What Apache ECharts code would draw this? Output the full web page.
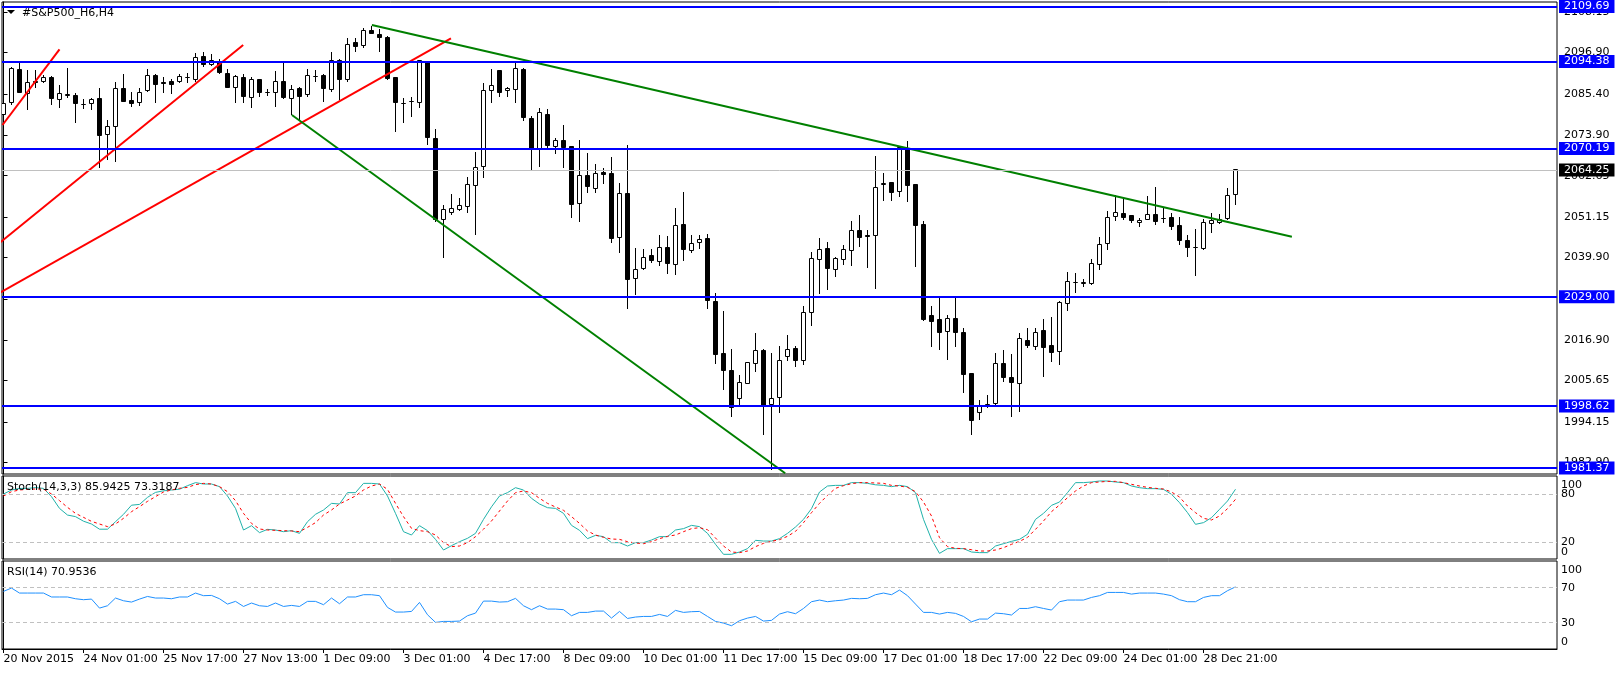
<!DOCTYPE html>
<html><head><meta charset="utf-8">
<script src="https://cdn.jsdelivr.net/npm/echarts@6/dist/echarts.min.js"></script>
<style>html,body{margin:0;padding:0;background:#fff}#c{width:1617px;height:673px}</style>
</head><body><div id="c"></div>
<script>
// ---- data (S&P500 H4 bars, 20 Nov 2015 - 28 Dec 2015) ----
const open = [2079.52,2083.05,2092.03,2085.55,2088.97,2088.89,2089.89,2083.89,2085.00,2084.80,
2082.55,2082.77,2084.16,2074.15,2076.27,2086.94,2083.50,2083.05,2086.19,2090.45,
2088.50,2088.78,2088.78,2089.85,2089.25,2095.73,2093.62,2094.17,2091.12,2087.22,
2090.00,2084.44,2089.25,2085.80,2085.83,2088.78,2084.16,2086.75,2085.08,2090.10,
2090.37,2086.67,2094.81,2089.25,2099.63,2098.71,2102.88,2102.04,2101.13,2089.81,
2082.80,2083.20,2083.05,2094.34,2073.04,2050.52,2052.46,2053.30,2054.02,2059.97,
2065.14,2086.39,2091.76,2086.19,2086.67,2092.23,2078.60,2070.26,2079.52,2070.62,
2072.48,2070.62,2054.96,2062.56,2059.14,2063.39,2063.31,2045.40,2057.75,2034.00,
2036.89,2040.31,2038.83,2042.73,2037.89,2048.93,2041.78,2044.12,2045.23,2027.79,
2013.25,2008.33,2000.74,2004.91,2010.47,2013.89,1998.87,2000.90,2012.31,2014.64,
2011.11,2024.65,2039.39,2042.45,2036.61,2039.39,2041.89,2047.46,2045.90,2045.95,
2060.30,2060.69,2058.25,2070.06,2060.05,2048.93,2023.62,2022.51,2019.26,2022.79,
2019.09,2007.49,1996.79,1998.46,1999.15,2010.47,2006.58,2004.91,2016.67,2015.09,
2019.45,2015.28,2013.70,2027.15,2032.95,2032.70,2032.72,2038.00,2043.84,2051.24,
2052.18,2051.43,2049.68,2050.52,2051.71,2050.85,2051.07,2048.74,2044.48,2042.70,
2042.45,2049.40,2049.68,2050.79,2057.47];
const high = [2084.61,2092.95,2094.17,2092.03,2092.03,2090.64,2090.37,2087.86,2092.51,2085.55,
2083.89,2084.33,2086.94,2078.13,2088.78,2090.92,2086.00,2086.94,2092.23,2090.92,
2090.00,2089.45,2090.92,2091.12,2096.84,2097.12,2096.40,2095.09,2092.31,2090.64,
2090.92,2090.00,2089.53,2086.67,2091.84,2094.34,2087.86,2087.22,2092.31,2092.03,
2090.92,2096.96,2095.09,2101.02,2100.85,2103.63,2104.35,2103.35,2101.49,2089.90,
2084.16,2084.61,2094.81,2094.40,2075.54,2054.49,2057.55,2056.35,2062.19,2069.15,
2088.50,2092.23,2092.03,2087.39,2094.62,2092.51,2079.24,2081.38,2081.10,2073.21,
2076.74,2070.98,2072.57,2068.87,2065.89,2064.86,2067.84,2060.61,2071.09,2042.45,
2042.17,2042.17,2046.15,2045.87,2053.57,2058.02,2046.15,2046.15,2046.43,2029.94,
2025.01,2014.45,2007.22,2010.92,2018.81,2014.45,2013.25,2015.28,2018.34,2015.28,
2026.40,2041.51,2045.40,2044.20,2040.11,2043.37,2050.04,2051.71,2047.50,2068.12,
2063.47,2060.97,2070.70,2072.29,2060.30,2050.04,2026.40,2028.71,2023.90,2028.99,
2020.20,2007.60,2000.26,2001.65,2013.25,2014.17,2013.06,2018.81,2020.37,2020.20,
2022.79,2023.43,2027.79,2035.78,2035.50,2033.91,2039.47,2045.68,2052.82,2057.27,
2056.16,2051.71,2050.79,2056.99,2059.41,2053.85,2052.35,2051.07,2046.15,2047.73,
2050.60,2052.18,2051.99,2059.14,2064.30];
const low = [2076.74,2082.30,2085.55,2080.91,2086.94,2088.33,2082.38,2081.38,2084.16,2077.38,
2081.10,2080.91,2064.86,2067.01,2066.53,2083.00,2081.83,2082.02,2086.00,2082.77,
2085.55,2085.28,2088.33,2088.33,2088.78,2092.95,2093.23,2090.92,2086.94,2082.77,
2082.77,2081.38,2084.61,2084.89,2081.66,2083.89,2079.52,2078.13,2084.61,2088.78,
2083.22,2086.00,2083.69,2088.78,2097.12,2098.24,2101.96,2097.12,2089.25,2074.71,
2077.21,2079.05,2081.38,2071.18,2049.76,2039.75,2051.71,2052.91,2052.35,2046.15,
2062.08,2082.94,2084.44,2084.61,2082.94,2077.93,2064.03,2065.14,2070.43,2068.76,
2064.86,2050.96,2049.85,2057.75,2057.91,2060.33,2044.01,2041.14,2025.49,2029.46,
2036.42,2038.28,2037.61,2035.30,2035.03,2039.00,2041.23,2042.26,2025.57,2010.28,
2003.04,1995.62,1998.40,2004.71,2008.13,1990.53,1980.80,1996.73,2011.19,2009.53,
2009.91,2020.93,2029.83,2030.85,2034.55,2037.81,2037.61,2042.90,2036.89,2031.22,
2055.69,2055.69,2056.80,2055.19,2037.33,2022.32,2015.09,2014.17,2011.39,2015.00,
2002.13,1990.53,1994.70,1997.95,1998.87,2005.35,1995.45,1997.01,2014.64,2014.17,
2006.74,2010.92,2010.00,2025.10,2029.94,2031.77,2032.24,2036.42,2041.98,2050.04,
2050.32,2049.40,2048.46,2050.32,2048.93,2049.57,2047.54,2043.37,2039.95,2034.83,
2041.98,2046.79,2049.21,2050.32,2054.49];
const close = [2082.77,2092.31,2085.72,2088.61,2088.61,2089.81,2084.05,2085.55,2085.10,2082.77,
2082.45,2083.89,2073.76,2076.27,2086.94,2083.22,2082.77,2085.83,2090.45,2087.86,
2088.14,2088.06,2090.17,2089.95,2095.57,2093.62,2094.73,2091.39,2087.22,2090.17,
2084.61,2089.45,2085.72,2085.85,2088.97,2084.33,2086.47,2084.61,2090.45,2090.20,
2086.94,2094.81,2089.45,2098.99,2098.51,2102.96,2102.24,2101.13,2089.73,2083.05,
2082.70,2083.30,2094.54,2073.32,2050.32,2053.30,2053.57,2054.41,2060.05,2064.98,
2086.19,2087.67,2085.72,2086.94,2092.51,2078.77,2070.26,2080.27,2070.90,2072.48,
2070.43,2054.69,2062.75,2059.58,2063.11,2063.03,2045.12,2057.55,2033.83,2036.61,
2039.84,2039.00,2042.73,2038.28,2048.65,2041.98,2043.84,2044.84,2027.88,2012.97,
2008.41,1998.12,2005.19,2010.55,2014.08,1998.60,2000.74,2011.11,2014.36,2011.19,
2024.65,2039.67,2042.17,2036.78,2039.56,2042.17,2047.46,2045.51,2045.80,2059.41,
2060.40,2057.91,2070.48,2059.86,2048.74,2022.51,2022.04,2018.98,2022.98,2018.98,
2007.22,1994.51,1998.68,1999.07,2010.47,2006.52,2005.08,2017.42,2015.37,2019.09,
2014.92,2013.53,2027.43,2033.16,2033.05,2032.80,2038.28,2043.56,2051.07,2052.46,
2050.96,2050.04,2050.13,2051.91,2049.85,2050.75,2048.46,2044.56,2042.73,2042.80,
2049.57,2050.04,2050.52,2057.08,2064.25];
const stochMain = [80,85,87,87,88,87,76.7,62,53.7,51.7,46,42.5,36,36,45.4,54.6,66,67,75.8,82,
84,85,86,90.4,94.2,92.5,92.5,89.2,77.5,62,35,40.4,31.7,35.8,35,32.9,34.2,30.8,45.4,54.6,
60,68.3,67.5,81.7,81.7,93.3,93.3,92.5,77.5,55.8,32.9,28.75,40.4,34.2,23.3,10,15.4,20.4,24.6,30.8,
48.3,64,77.5,81.7,87.9,85,74.6,67.5,62.9,62,55.8,40.8,34.6,24.2,28.3,26.7,19.2,19.2,15,19.2,
19.2,22.5,26.7,26.7,35,36.7,40.8,39.2,30.8,17.1,4.6,4.6,7.5,11.7,22.1,21.2,21.2,24.2,30.8,38.75,
48.3,61.7,82.5,90,90.8,90.8,94.2,94.2,93.3,91.5,90.8,89.2,90.8,89.2,81.7,48.3,23.3,5.8,11.7,11.7,
11.7,7.5,6.7,6.7,15,17.9,20.8,23.3,29.6,48.3,55.8,65.8,70,81.7,94.2,94.2,95,96.25,96.25,95,
94.2,90,87.9,86.7,86.7,85.8,79.6,69.2,56.7,42.1,44.2,50.4,60.8,71.25,85.94];
const stochSignal = [77.5,82.9,85,85.8,86.25,86.25,80,71.7,63.3,55.8,50.8,45.8,42.5,39.2,42.5,49.6,57.9,64.2,70.8,76.7,
82.5,85,87.1,88.3,91.7,93.3,92.5,89.2,82.9,71.7,55.8,43.3,36.25,35,34.6,34.2,33.75,32.9,38.3,44.2,
53.75,60,67.5,72.5,77.5,85,90,92.5,85.8,68.3,51.7,37.1,34.2,32.9,28.75,19.2,14.2,15,19.2,26.7,
36,46.25,58.75,71.25,81.7,83.75,81.7,74.6,68.3,63.75,59.6,51.7,43.3,33.75,28.75,25.8,23.75,23.3,20.4,18.75,
17.9,20.4,24.2,27.1,28.75,32.9,36.7,37.9,35.4,25,15,7.5,6.7,8.75,14.2,18.3,20.8,22.9,27.1,33.3,
44.2,56.7,68.3,78.3,87.1,90.4,92.9,94.2,94.2,93.75,93.3,90.8,90,88.3,82.9,70,52.5,25.4,14.2,12.1,
11.7,10.4,8.75,8.75,10,12.9,17.1,20.8,25.8,35.8,46.25,57.9,66.25,75.4,83.75,90,94.2,95,95.8,95.8,
94.2,92.1,90,88.3,87.1,86.25,82.5,76.25,65,56.7,49.6,47.5,52.5,61.7,73.32];
const rsi = [65.8,69.6,63.9,63.9,63.9,63.9,59.4,59.4,59.4,57.4,56.3,57,46.7,49.4,58.2,55.1,53.6,57,60,58.2,
58.2,57.4,59.4,59.4,63.9,60.9,61.2,57.4,51.3,54.4,48.6,52.5,49.4,48.6,52.5,48.6,49.8,48.6,54.4,54.4,
50.6,58.2,51.7,59.4,59.4,62,62,60.9,47.5,42.2,42.2,42.9,53.2,39.1,30.4,31.5,31.5,31.9,38,41,
54.7,54.7,53.6,54,57.8,49.4,44.9,49.4,45.6,45.6,44.9,38,41.8,41.8,43.3,43.3,35.3,42.9,34.9,36.5,
37.2,37.2,39.5,37.2,44.1,41.8,42.6,42.9,37.2,31.5,29.6,26.6,32.3,35.3,37.2,31.9,32.7,39.9,42.6,40.3,
46.3,54,55.9,54,55.1,55.9,57.8,57.4,57.8,62,63.9,62,67.3,60.9,51.3,41.8,41.8,39.9,41.8,40.7,
37.2,31.1,34.2,34.2,41,40.3,38.8,46.3,46.3,48.3,46.3,44.5,54,55.9,55.9,55.9,58.9,60.9,64.6,64.6,
64.6,62.7,63.9,63.9,63.9,62.7,60.9,56.3,54,54,58.9,60.9,60.9,66.6,70.95];
const priceTicks = [2108.15,2096.90,2085.40,2073.90,2062.65,2051.15,2039.90,2028.40,2016.90,2005.65,1994.15,1982.90];
const stochLevelTicks = [20,80];
const stochEdgeTicks = [0,100];
const rsiTicks = [0,30,70,100];
const timeTickBars = [0,10,20,30,40,50,60,70,80,90,100,110,120,130,140,150];
const timeTickLabels = ['20 Nov 2015','24 Nov 01:00','25 Nov 17:00','27 Nov 13:00','1 Dec 09:00','3 Dec 01:00',
  '4 Dec 17:00','8 Dec 09:00','10 Dec 01:00','11 Dec 17:00','15 Dec 09:00','17 Dec 01:00','18 Dec 17:00',
  '22 Dec 09:00','24 Dec 01:00','28 Dec 21:00'];
const levels = [2109.69, 2094.38, 2070.19, 2029.00, 1998.62, 1981.37];
const lastPrice = 2064.25;
const redLines = [
  [[-0.125, 2076.74], [7.0, 2097.79]],
  [[-1, 2043.0], [29.96, 2098.99]],
  [[-1, 2029.37], [55.93, 2100.85]]
];
const greenLines = [
  [[46.05, 2104.55], [161.05, 2045.68]],
  [[36.05, 2079.52], [97.71, 1979.88]]
];
const chartTitle = '#S&P500_H6,H4';
const stochTitle = 'Stoch(14,3,3) 85.9425 73.3187';
const rsiTitle = 'RSI(14) 70.9536';

// ---- chart ----
const FONT = 'DejaVu Sans';
const XMIN = -0.1875, XMAX = 194.1875;
const chart = echarts.init(document.getElementById('c'), null, {renderer: 'canvas'});

function renderCandle(params, api) {
  const x = api.value(0), o = api.value(1), c = api.value(2), l = api.value(3), h = api.value(4);
  const pO = api.coord([x, o]), pC = api.coord([x, c]), pL = api.coord([x, l]), pH = api.coord([x, h]);
  const cx = Math.round(pO[0] - 0.5) + 0.5;
  const top = Math.round(Math.min(pO[1], pC[1]) - 0.5) + 0.5;
  const bot = Math.round(Math.max(pO[1], pC[1]) - 0.5) + 0.5;
  const bull = c >= o;
  return {
    type: 'group',
    children: [
      {type: 'line', shape: {x1: cx, y1: Math.round(pH[1]), x2: cx, y2: Math.round(pL[1])},
       style: {stroke: '#000', lineWidth: 1}},
      {type: 'rect', shape: {x: cx - 2, y: top, width: 4, height: Math.max(0, bot - top)},
       style: {fill: bull ? '#fff' : '#000', stroke: '#000', lineWidth: 1}}
    ]
  };
}

const boxLabel = (txt, bg) => ({
  show: true, position: 'end', formatter: txt, color: '#fff', backgroundColor: bg,
  padding: [1, 5, 0, 5], fontSize: 11, fontFamily: FONT, distance: 2, lineHeight: 12
});

const levelMarks = levels.map(v => ({
  yAxis: v, lineStyle: {color: '#0000ff', width: 2, type: 'solid'}, label: boxLabel(v.toFixed(2), '#0000ff')
}));
levelMarks.unshift({yAxis: lastPrice, lineStyle: {color: '#c0c0c0', width: 1, type: 'solid'},
  label: boxLabel(lastPrice.toFixed(2), '#000')});

const dashed = vals => ({
  symbol: ['none', 'none'], silent: true, animation: false,
  label: {show: false},
  lineStyle: {color: '#c0c0c0', type: [4, 3], width: 1},
  data: vals.map(v => ({yAxis: v}))
});

const lineBase = (xi, data, color, width, z) => ({
  type: 'line', xAxisIndex: xi, yAxisIndex: xi, data: data, symbol: 'none', silent: true,
  animation: false, clip: true, z: z, lineStyle: {color: color, width: width}, emphasis: {disabled: true}
});

const series = [];
series.push({
  type: 'custom', xAxisIndex: 0, yAxisIndex: 0, renderItem: renderCandle, clip: true,
  encode: {x: 0, y: [1, 2, 3, 4]}, animation: false, silent: true, z: 2,
  data: open.map((o, i) => [i, o, close[i], low[i], high[i]])
});
redLines.forEach((seg, k) => {
  const s = lineBase(0, seg, '#ff0000', 2, 4);
  if (k === 0) s.markLine = {symbol: ['none', 'none'], silent: true, animation: false, data: levelMarks};
  series.push(s);
});
greenLines.forEach(seg => series.push(lineBase(0, seg, '#008000', 2, 4)));
const sm = lineBase(1, stochMain.map((v, i) => [i, v]), '#20b2aa', 1, 3);
sm.markLine = dashed([80, 20]);
series.push(sm);
const ss = lineBase(1, stochSignal.map((v, i) => [i, v]), '#ff0000', 1, 4);
ss.lineStyle.type = [3, 3];
series.push(ss);
const rs = lineBase(2, rsi.map((v, i) => [i, v]), '#1e90ff', 1, 3);
rs.markLine = dashed([70, 30]);
series.push(rs);

const gridBase = {left: 2, width: 1555, show: true, borderColor: '#000', borderWidth: 1, backgroundColor: '#fff'};
const hiddenX = gi => ({gridIndex: gi, type: 'value', min: XMIN, max: XMAX, show: false, splitLine: {show: false}});
const lblStyle = {color: '#000', fontSize: 11, fontFamily: FONT};
const edgeFmt = v => v >= 100 ? '{t|' + v + '}' : (v <= 0 ? '{b|' + v + '}' : String(v));

const option = {
  animation: false,
  backgroundColor: '#fff',
  textStyle: {fontFamily: FONT},
  grid: [
    Object.assign({top: 2, height: 472}, gridBase),
    Object.assign({top: 476, height: 83}, gridBase),
    Object.assign({top: 561, height: 88}, gridBase)
  ],
  xAxis: [
    hiddenX(0), hiddenX(1),
    {gridIndex: 2, type: 'value', min: XMIN, max: XMAX, splitLine: {show: false},
     axisLine: {show: true, lineStyle: {color: '#000', width: 1}},
     axisTick: {show: true, customValues: timeTickBars, length: 4, lineStyle: {color: '#000'}},
     axisLabel: Object.assign({show: true, customValues: timeTickBars, align: 'left', margin: 5,
       showMinLabel: true, showMaxLabel: true, hideOverlap: false,
       formatter: v => timeTickLabels[timeTickBars.indexOf(Math.round(v))] || ''}, lblStyle)}
  ],
  yAxis: [
    {gridIndex: 0, type: 'value', position: 'right', min: 1979.68, max: 2110.94, splitLine: {show: false},
     axisLine: {show: true, lineStyle: {color: '#000'}},
     axisTick: {show: true, customValues: priceTicks, length: 4, lineStyle: {color: '#000'}},
     axisLabel: Object.assign({customValues: priceTicks, margin: 7, showMinLabel: true, showMaxLabel: true,
       hideOverlap: false, formatter: v => v.toFixed(2)}, lblStyle)},
    {gridIndex: 1, type: 'value', position: 'right', min: -1.25, max: 102.5, splitLine: {show: false},
     axisLine: {show: true, lineStyle: {color: '#000'}}, axisTick: {show: false},
     axisLabel: Object.assign({customValues: stochLevelTicks, margin: 4, showMinLabel: true, showMaxLabel: true,
       hideOverlap: false, formatter: v => String(v)}, lblStyle)},
    {gridIndex: 2, type: 'value', position: 'right', min: 0, max: 100.5, splitLine: {show: false},
     axisLine: {show: true, lineStyle: {color: '#000'}}, axisTick: {show: false},
     axisLabel: Object.assign({customValues: rsiTicks, margin: 4, showMinLabel: true, showMaxLabel: true,
       hideOverlap: false, formatter: edgeFmt,
       rich: {t: Object.assign({padding: [17, 0, 0, 0]}, lblStyle), b: Object.assign({padding: [0, 0, 14, 0]}, lblStyle)}
     }, lblStyle)},
    {gridIndex: 1, type: 'value', position: 'right', offset: 0, min: -1.25, max: 102.5, splitLine: {show: false},
     axisLine: {show: false}, axisTick: {show: false},
     axisLabel: Object.assign({customValues: stochEdgeTicks, margin: 4, showMinLabel: true, showMaxLabel: true,
       hideOverlap: false, formatter: edgeFmt,
       rich: {t: Object.assign({padding: [15, 0, 0, 0]}, lblStyle), b: Object.assign({padding: [0, 0, 12, 0]}, lblStyle)}
     }, lblStyle)}
  ],
  graphic: [
    {type: 'polygon', shape: {points: [[7, 10], [15, 10], [11, 14]]}, style: {fill: '#000'}, z: 100},
    {type: 'text', x: 22, y: 13, z: 100, style: {text: chartTitle, fill: '#000', font: '11px "DejaVu Sans"', textVerticalAlign: 'middle', verticalAlign: 'middle'}},
    {type: 'text', x: 7, y: 487, z: 100, style: {text: stochTitle, fill: '#000', font: '11px "DejaVu Sans"', textVerticalAlign: 'middle', verticalAlign: 'middle'}},
    {type: 'text', x: 7, y: 572, z: 100, style: {text: rsiTitle, fill: '#000', font: '11px "DejaVu Sans"', textVerticalAlign: 'middle', verticalAlign: 'middle'}}
  ],
  series: series
};
chart.setOption(option);
</script>
</body></html>
